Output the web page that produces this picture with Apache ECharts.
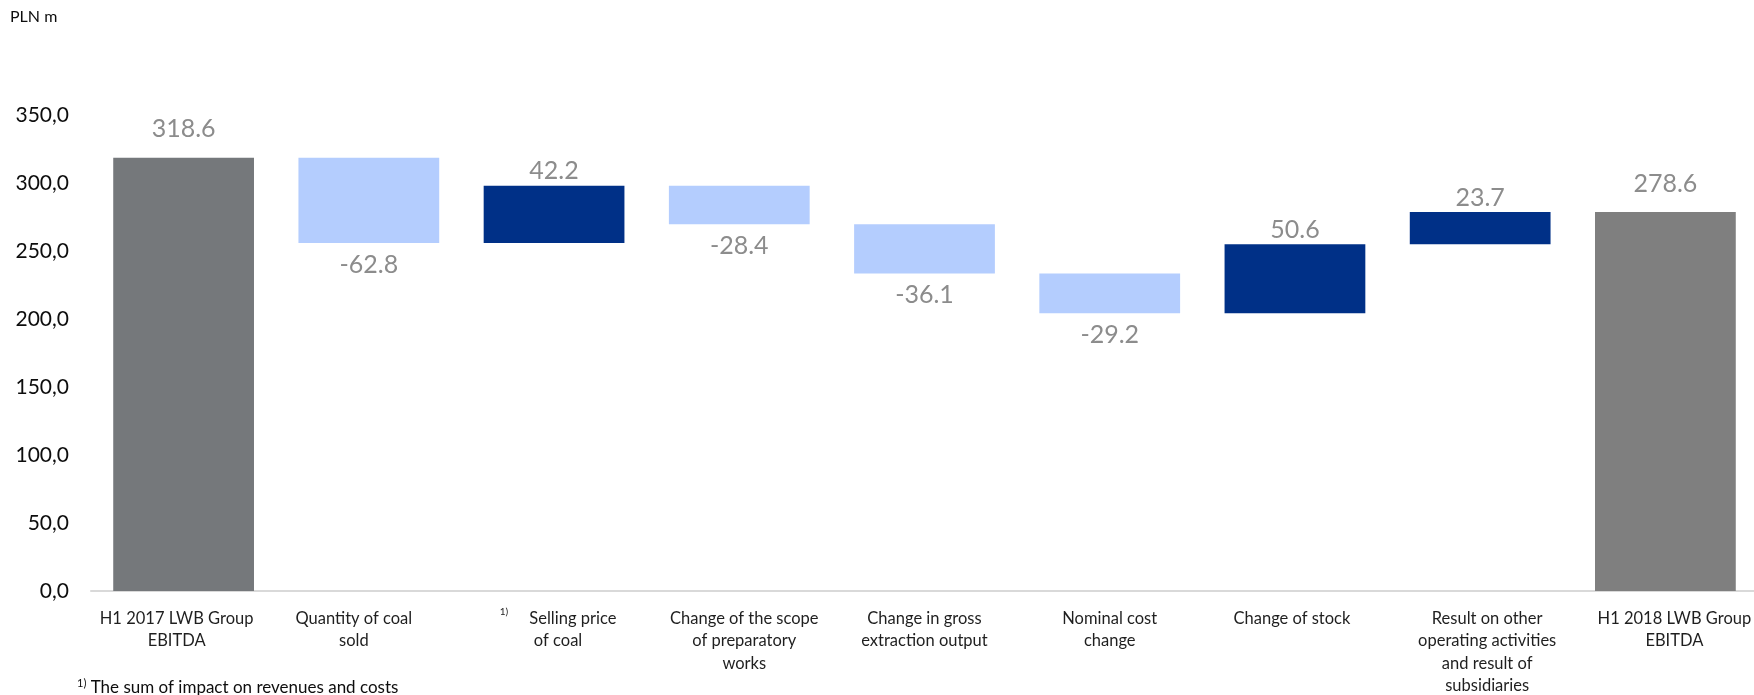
<!DOCTYPE html>
<html>
<head>
<meta charset="utf-8">
<script src="https://cdn.jsdelivr.net/npm/echarts@6/dist/echarts.min.js"></script>
<style>
html,body{margin:0;padding:0;background:#fff;}
#c{width:1754px;height:695px;}
</style>
</head>
<body>
<div id="c"></div>
<script>
// ---- data ----
const categories = [
  'H1 2017 LWB Group\nEBITDA',
  'Quantity of coal\nsold',
  'Selling price\nof coal',
  'Change of the scope\nof preparatory\nworks',
  'Change in gross\nextraction output',
  'Nominal cost\nchange',
  'Change of stock',
  'Result on other\noperating activities\nand result of\nsubsidiaries',
  'H1 2018 LWB Group\nEBITDA'
];
const footMarks = ['', '', '1)', '', '', '', '', '', ''];
const values = [318.6, -62.8, 42.2, -28.4, -36.1, -29.2, 50.6, 23.7, 278.6];
const kinds = ['total', 'delta', 'delta', 'delta', 'delta', 'delta', 'delta', 'delta', 'total'];
const yTicks = [0, 50, 100, 150, 200, 250, 300, 350];

// ---- derived waterfall pieces ----
const base = [], up = [], down = [], total = [];
let run = 0;
values.forEach((v, i) => {
  if (kinds[i] === 'total') {
    base.push(0); up.push('-'); down.push('-'); total.push(v); run = v;
  } else if (v >= 0) {
    base.push(run); up.push(v); down.push('-'); total.push('-'); run += v;
  } else {
    run += v; base.push(run); up.push('-'); down.push(-v); total.push('-');
  }
});

const FONT = 'Lato, "Noto Sans", sans-serif';
// small horizontal offsets of the category text boxes (px)
const labelShift = [-7, -15, 4, 5, 0, 0, -3, 7, 9];
const totalColors = ['#75787B', '#7F7F7F'];
let tIdx = 0;
const totalData = total.map(v => v === '-' ? '-' : {value: v, itemStyle: {color: totalColors[tIdx++]}});

const chart = echarts.init(document.getElementById('c'));
chart.setOption({
  animation: false,
  textStyle: {fontFamily: FONT},
  grid: {left: 91, right: -4, top: 115, bottom: 104, containLabel: false, outerBoundsMode: 'none'},
  xAxis: {
    type: 'category',
    data: categories.map((c, i) => ({
      value: c,
      textStyle: {padding: labelShift[i] >= 0 ? [0, 0, 0, 2 * labelShift[i]] : [0, -2 * labelShift[i], 0, 0]}
    })),
    axisTick: {show: false},
    axisLine: {lineStyle: {color: '#D9D9D9', width: 2}},
    axisLabel: {
      interval: 0,
      margin: 16,
      fontSize: 16.5,
      lineHeight: 22.5,
      color: '#1F1F1F',
      fontFamily: FONT,
      hideOverlap: false,
      formatter: (v, i) => footMarks[i] ? '{sup|' + footMarks[i] + '}     ' + v : v,
      rich: {
        sup: {fontSize: 10, color: '#1F1F1F', verticalAlign: 'top', padding: [0, 0, 8, 0], fontFamily: FONT}
      }
    }
  },
  yAxis: {
    type: 'value',
    min: yTicks[0],
    max: yTicks[yTicks.length - 1],
    interval: yTicks[1] - yTicks[0],
    splitLine: {show: false},
    axisLine: {show: false},
    axisTick: {show: false},
    axisLabel: {
      fontSize: 21,
      color: '#0D0D0D',
      margin: 22,
      fontFamily: FONT,
      formatter: v => v.toFixed(1).replace('.', ',')
    }
  },
  series: [
    {
      name: 'base', type: 'bar', stack: 'w', data: base,
      itemStyle: {color: 'transparent'}, barCategoryGap: '24%', silent: true
    },
    {
      name: 'up', type: 'bar', stack: 'w', data: up,
      itemStyle: {color: '#003087'},
      label: {show: true, position: 'top', distance: 2, fontSize: 25, color: '#8C8C8C', fontFamily: FONT,
        formatter: p => values[p.dataIndex].toFixed(1)}
    },
    {
      name: 'down', type: 'bar', stack: 'w', data: down,
      itemStyle: {color: '#B4CDFE'},
      label: {show: true, position: 'bottom', distance: 9, fontSize: 25, color: '#8C8C8C', fontFamily: FONT,
        formatter: p => values[p.dataIndex].toFixed(1)}
    },
    {
      name: 'total', type: 'bar', stack: 'w', data: totalData,
      label: {show: true, position: 'top', distance: 16, fontSize: 25, color: '#8C8C8C', fontFamily: FONT,
        formatter: p => values[p.dataIndex].toFixed(1)}
    }
  ],
  graphic: [
    {type: 'text', left: 10, top: 9, style: {text: 'PLN m', fontSize: 16, fill: '#0D0D0D', fontFamily: FONT}},
    {type: 'text', left: 77, top: 678, style: {text: '{s|1)} The sum of impact on revenues and costs', fontSize: 17, fill: '#0D0D0D', fontFamily: FONT,
      rich: {s: {fontSize: 11, verticalAlign: 'top', fill: '#0D0D0D', fontFamily: FONT, padding: [0, 0, 8, 0]}}}}
  ]
});
</script>
</body>
</html>
